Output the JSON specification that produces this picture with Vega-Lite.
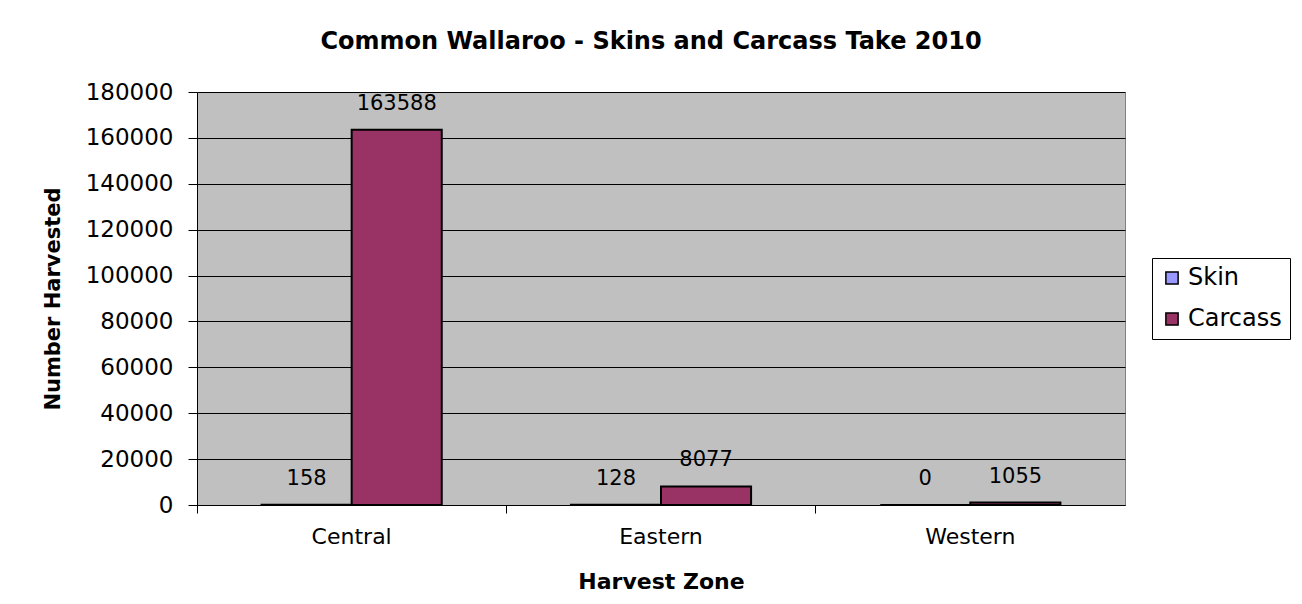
{
  "$schema": "https://vega.github.io/schema/vega-lite/v6.json",
  "autosize": "none",
  "width": 928,
  "height": 413,
  "padding": {"left": 197, "top": 92, "right": 177, "bottom": 99},
  "background": "white",
  "config": {
    "font": "DejaVu Sans",
    "view": {"fill": "#C0C0C0", "stroke": "#808080", "strokeWidth": 1}
  },
  "title": {
    "text": "Common Wallaroo - Skins and Carcass Take 2010",
    "fontSize": 24,
    "fontWeight": "bold",
    "font": "DejaVu Sans",
    "color": "black",
    "anchor": "middle",
    "offset": 27,
    "dx": -10
  },
  "data": {
    "values": [
      {"zone": "Central", "type": "Skin", "value": 158},
      {"zone": "Central", "type": "Carcass", "value": 163588},
      {"zone": "Eastern", "type": "Skin", "value": 128},
      {"zone": "Eastern", "type": "Carcass", "value": 8077},
      {"zone": "Western", "type": "Skin", "value": 0},
      {"zone": "Western", "type": "Carcass", "value": 1055}
    ]
  },
  "encoding": {
    "x": {
      "field": "zone",
      "type": "nominal",
      "scale": {"paddingInner": 0, "paddingOuter": 0},
      "axis": {
        "title": "Harvest Zone",
        "titleFontSize": 22,
        "titleFontWeight": "bold",
        "titleColor": "black",
        "titlePadding": 24,
        "labelAngle": 0,
        "labelFontSize": 22,
        "labelColor": "black",
        "labelPadding": 13,
        "domainColor": "black",
        "tickColor": "black",
        "tickSize": 8,
        "bandPosition": 0
      }
    },
    "xOffset": {
      "field": "type",
      "type": "nominal",
      "sort": ["Skin", "Carcass"],
      "scale": {"paddingInner": 0, "paddingOuter": 0.717}
    },
    "y": {
      "field": "value",
      "type": "quantitative",
      "scale": {"domain": [0, 180000], "nice": false},
      "axis": {
        "title": "Number Harvested",
        "titleFontSize": 21,
        "titleFontWeight": "bold",
        "titleColor": "black",
        "titlePadding": 22,
        "labelFontSize": 23,
        "labelColor": "black",
        "labelPadding": 15,
        "values": [0, 20000, 40000, 60000, 80000, 100000, 120000, 140000, 160000, 180000],
        "format": "d",
        "domainColor": "black",
        "tickColor": "black",
        "tickSize": 9,
        "gridColor": "black",
        "gridWidth": 1
      }
    }
  },
  "layer": [
    {
      "mark": {"type": "bar", "stroke": "black", "strokeWidth": 2},
      "encoding": {
        "color": {
          "field": "type",
          "type": "nominal",
          "sort": ["Skin", "Carcass"],
          "scale": {"domain": ["Skin", "Carcass"], "range": ["#9999FF", "#993366"]},
          "legend": {
            "title": null,
            "orient": "none",
            "legendX": 955,
            "legendY": 166,
            "symbolType": "square",
            "symbolSize": 150,
            "symbolStrokeColor": "black",
            "symbolStrokeWidth": 1.5,
            "labelFontSize": 24,
            "labelColor": "black",
            "labelFont": "DejaVu Sans",
            "labelOffset": 4,
            "rowPadding": 17,
            "strokeColor": "black",
            "fillColor": "white",
            "padding": 8
          }
        }
      }
    },
    {
      "mark": {"type": "text", "baseline": "bottom", "dy": -16, "fontSize": 21, "color": "black", "font": "DejaVu Sans"},
      "encoding": {
        "text": {"field": "value", "type": "quantitative", "format": "d"}
      }
    }
  ]
}
